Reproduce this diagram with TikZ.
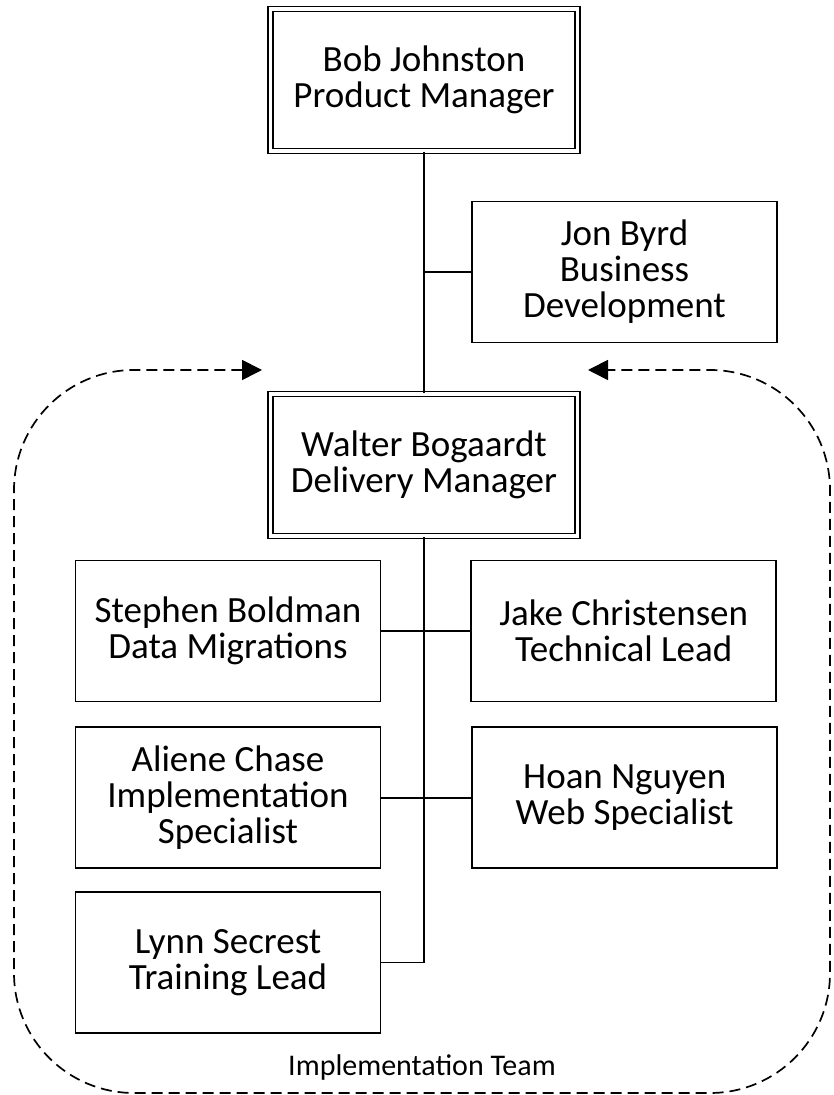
\documentclass[tikz,border=0pt]{standalone}
\usepackage{fontspec}
\setmainfont{Carlito}
\usetikzlibrary{arrows.meta,positioning}

\begin{document}
\begin{tikzpicture}[
  x=1pt, y=1pt,
  member/.style={rectangle, draw, line width=1.7pt, align=center,
                 font=\fontsize{37}{36}\selectfont,
                 minimum width=305pt, minimum height=141pt, inner sep=0pt},
  lead/.style={member, double, double distance=3.5pt, line width=1.5pt,
               minimum width=307pt, minimum height=142pt},
  link/.style={draw, line width=1.7pt},
  team/.style={draw, line width=1.7pt, dash pattern=on 11pt off 6pt,
               rounded corners=120pt,
               {Triangle[length=20pt,width=20pt]}-{Triangle[length=20pt,width=20pt]}},
  node distance=24pt and 89pt
]
\useasboundingbox (0,0) rectangle (833,1095);
% managers
\node[lead] (bob) at (424,1015) {Bob Johnston\\Product Manager};
\node[member] (jon) at (624.5,823) {Jon Byrd\\Business\\Development};
\node[lead] (walter) at (424,630) {Walter Bogaardt\\Delivery Manager};
% team
\node[member] (stephen) at (228,464) {Stephen Boldman\\Data Migrations};
\node[member, right=of stephen] (jake) {Jake Christensen\\Technical Lead};
\node[member, below=of stephen] (aliene) {Aliene Chase\\Implementation\\Specialist};
\node[member, right=90pt of aliene] (hoan) {Hoan Nguyen\\Web Specialist};
\node[member, below=22pt of aliene] (lynn) {Lynn Secrest\\Training Lead};
\node[font=\fontsize{30}{30}\selectfont] (teamlabel) at (422,27) {Implementation Team};
% connectors
\draw[link] (bob) -- (walter);
\draw[link] (jon.west) -- (jon.west -| bob.south);
\draw[link] (walter.south) |- (lynn.east);
\draw[link] (stephen) -- (jake);
\draw[link] (aliene) -- (hoan);
% team frame
\coordinate (ltip) at (262,725);
\coordinate (rtip) at (588,725);
\draw[team] (ltip) -- (14,725) -- (14,2) -- (830,2) -- (830,725) -- (rtip);
\end{tikzpicture}
\end{document}
